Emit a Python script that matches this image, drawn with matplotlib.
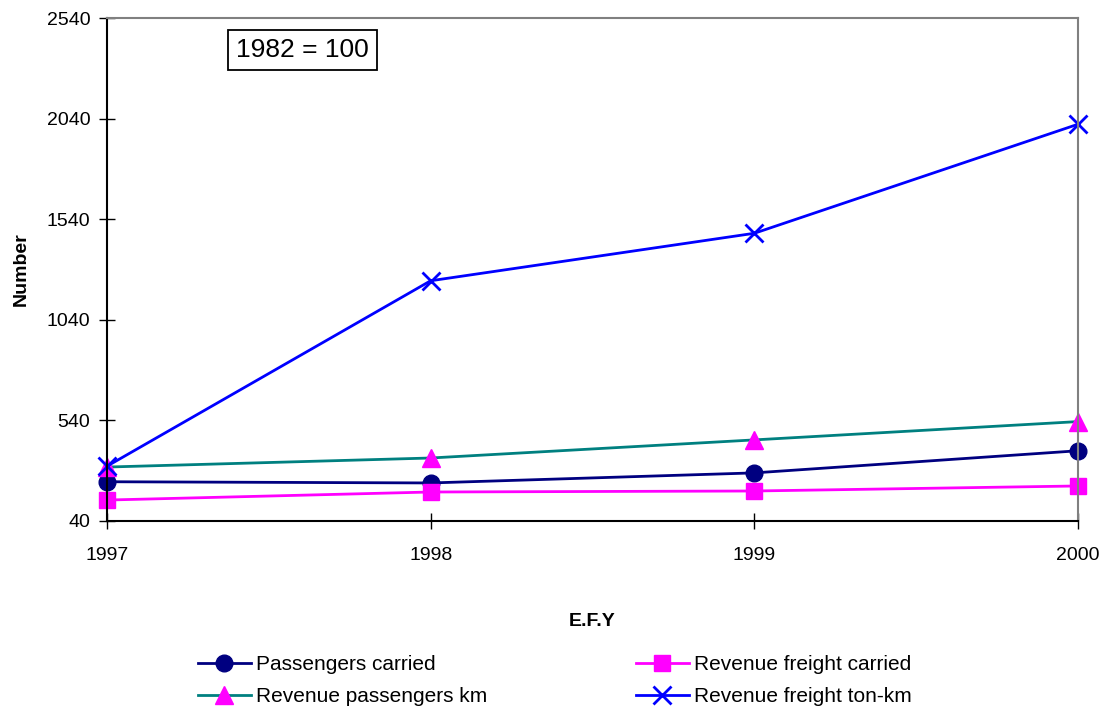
import matplotlib.pyplot as plt

plt.rcParams["font.family"] = ["Liberation Sans", "DejaVu Sans"]

# Index values (1982 = 100)
years = [1997, 1998, 1999, 2000]
passengers_carried = [235, 229, 279, 389]
revenue_freight_carried = [144, 184, 189, 214]
revenue_passengers_km = [308, 353, 443, 534]
revenue_freight_ton_km = [312, 1234, 1470, 2012]

y_ticks = [40, 540, 1040, 1540, 2040, 2540]

fig = plt.figure(figsize=(11.06, 7.12), dpi=100)
ax = fig.add_axes([0.0967, 0.2683, 0.878, 0.7064])

ax.plot(years, passengers_carried, color="#000080", lw=2, marker="o",
        ms=12, mfc="#000080", mec="#000080", clip_on=False,
        label="Passengers carried")
ax.plot(years, revenue_passengers_km, color="#008080", lw=2, marker="^",
        ms=13, mfc="#FF00FF", mec="#FF00FF", clip_on=False,
        label="Revenue passengers km")
ax.plot(years, revenue_freight_carried, color="#FF00FF", lw=2, marker="s",
        ms=12, mfc="#FF00FF", mec="#FF00FF", clip_on=False,
        label="Revenue freight carried")
ax.plot(years, revenue_freight_ton_km, color="#0000FF", lw=2, marker="x",
        ms=13, mew=2, mec="#0000FF", clip_on=False,
        label="Revenue freight ton-km")

ax.set_xlim(1997, 2000)
ax.set_ylim(40, 2540)
ax.set_xticks(years)
ax.set_xticklabels([str(y) for y in years])
ax.set_yticks(y_ticks)
ax.tick_params(axis="both", labelsize=14, direction="inout", length=12, width=1)
ax.tick_params(axis="x", pad=13)
ax.tick_params(axis="y", pad=6)

for side in ["top", "right"]:
    ax.spines[side].set_color("#808080")
    ax.spines[side].set_linewidth(1.5)
for side in ["left", "bottom"]:
    ax.spines[side].set_color("black")
    ax.spines[side].set_linewidth(1.5)

ax.set_ylabel("Number", fontsize=14, fontweight="bold", labelpad=12)
ax.set_xlabel("E.F.Y", fontsize=14, fontweight="bold", labelpad=35)

ax.text(0.133, 0.937, "1982 = 100", transform=ax.transAxes, fontsize=19,
        va="center", ha="left",
        bbox=dict(boxstyle="square,pad=0.3", fc="white", ec="black", lw=1.3))

fig.legend(loc="center", bbox_to_anchor=(0.5016, 0.044), ncol=2, frameon=False,
           fontsize=15, handlelength=2.55, handletextpad=0.25,
           columnspacing=7.13, labelspacing=0.6)

plt.savefig("out.png", dpi=100)
